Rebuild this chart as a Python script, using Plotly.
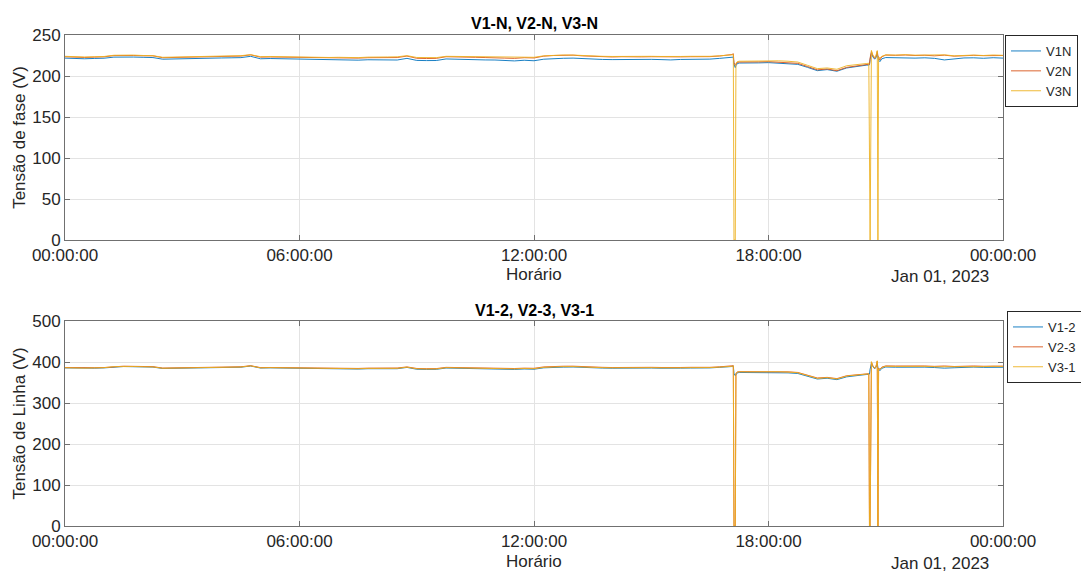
import plotly.graph_objects as go
import pandas as pd

# sample times (HH:MM on 2023-01-01; "24:00" = next midnight)
times = ["00:00","00:15","00:30","00:45","01:00","01:15","01:30","01:45","02:00","02:15",
         "02:30","02:45","03:00","03:15","03:30","03:45","04:00","04:15","04:30","04:45",
         "05:00","05:15","05:30","05:45","06:00","06:15","06:30","06:45","07:00","07:15",
         "07:30","07:45","08:00","08:15","08:30","08:45","09:00","09:15","09:30","09:45",
         "10:00","10:15","10:30","10:45","11:00","11:15","11:30","11:45","12:00","12:15",
         "12:30","12:45","13:00","13:15","13:30","13:45","14:00","14:15","14:30","14:45",
         "15:00","15:15","15:30","15:45","16:00","16:15","16:30","16:45","17:00","17:04",
         "17:06","17:07","17:09","17:10","17:12","17:15","17:30","17:45","18:00","18:15",
         "18:30","18:45","19:00","19:15","19:30","19:45","20:00","20:15","20:30","20:34",
         "20:35","20:36","20:38","20:40","20:43","20:45","20:47","20:48","20:49","20:51",
         "20:54","21:00","21:15","21:30","21:45","22:00","22:15","22:30","22:45","23:00",
         "23:15","23:30","23:45","24:00"]

V1N = [221.8,221.3,221.0,221.4,221.7,223.0,223.4,223.1,222.8,222.5,
       220.5,220.6,221.0,221.2,221.5,221.6,222.0,222.2,222.4,224.0,
       221.0,221.3,221.0,220.8,220.5,220.0,220.2,219.6,219.8,219.5,
       219.3,219.8,219.6,219.2,219.5,221.5,219.0,218.8,218.9,220.8,
       220.3,220.5,220.0,219.6,219.5,218.8,218.4,219.2,218.6,220.5,
       221.3,221.6,221.8,221.0,220.6,220.2,220.0,220.3,219.8,220.0,
       220.3,220.0,219.6,220.2,220.4,220.0,220.6,221.5,222.0,222.8,
       223.0,214.0,210.2,212.5,215.0,215.8,215.6,216.0,216.3,215.8,
       215.0,214.2,210.5,206.5,207.8,205.8,209.8,211.8,213.2,213.4,
       213.6,220.0,228.0,223.5,220.5,222.5,228.0,222.0,219.5,217.5,
       221.0,222.5,222.0,222.4,221.8,222.2,221.5,219.6,221.2,222.0,
       222.2,221.6,222.3,221.8]
V2N = [223.5,223.0,222.6,223.0,223.4,224.9,225.3,225.0,224.7,224.6,
       222.3,222.5,222.8,223.0,223.3,223.4,223.8,224.0,224.3,225.8,
       223.0,223.2,223.0,222.8,222.6,222.3,222.5,222.0,222.2,221.9,
       221.8,222.3,222.3,222.0,222.5,224.3,221.6,221.3,221.5,223.5,
       223.0,223.3,222.8,222.5,222.6,221.8,221.5,222.3,222.0,224.2,
       225.0,225.2,225.4,224.5,224.0,223.6,223.2,223.5,223.0,223.3,
       223.5,223.3,222.8,223.3,223.5,223.2,223.6,224.4,225.2,226.2,
       227.2,216.0,213.0,214.5,216.5,217.0,216.8,217.2,217.5,217.0,
       216.5,215.4,211.5,207.5,208.5,206.5,210.5,212.5,213.8,214.2,
       214.5,222.0,230.0,225.0,221.5,224.0,230.0,224.5,222.0,219.5,
       223.5,225.5,225.2,225.6,225.0,225.3,224.6,225.4,224.2,225.0,
       225.2,224.8,225.3,225.0]
V3N = [224.0,223.4,223.2,223.5,223.8,225.3,225.6,225.5,225.0,224.8,
       222.8,223.0,223.3,223.6,223.8,224.0,224.2,224.5,224.8,226.0,
       223.6,223.8,223.5,223.3,223.2,223.0,223.0,222.6,222.8,222.5,
       222.4,223.0,223.5,223.2,223.4,224.8,222.6,222.3,222.4,224.0,
       223.8,224.2,223.6,223.4,223.3,222.8,222.6,223.0,222.8,224.6,
       225.3,225.6,225.5,224.8,224.3,224.0,223.8,224.0,223.6,223.8,
       224.0,223.8,223.5,223.8,224.0,223.6,224.0,224.6,225.0,225.6,
       226.0,0.0,0.0,215.5,217.5,218.0,218.2,218.5,218.8,218.5,
       218.0,217.0,213.0,209.0,209.8,208.2,212.5,214.3,215.2,215.6,
       0.0,0.0,231.2,226.0,222.5,225.0,231.0,0.0,223.0,222.0,
       224.0,225.8,225.5,226.0,225.4,225.6,225.0,225.8,224.6,225.3,
       225.5,225.0,225.6,225.2]

V12 = [385.6,384.8,384.4,385.0,385.6,388.2,389.0,388.5,388.0,387.6,
       384.2,384.4,385.0,385.3,385.8,386.0,386.5,386.9,387.3,390.2,
       385.3,385.7,385.2,384.8,384.4,383.8,384.1,383.2,383.6,383.0,
       382.8,383.6,383.6,383.0,383.6,386.8,382.3,381.9,382.1,385.3,
       384.7,385.1,384.3,383.7,383.6,382.5,381.9,383.0,382.4,385.8,
       387.1,387.5,387.8,386.5,385.8,385.2,384.8,385.3,384.5,384.8,
       385.3,384.8,384.1,385.0,385.3,384.8,385.6,387.0,387.8,389.0,
       390.0,372.4,366.5,369.5,373.5,374.5,374.2,375.0,375.4,374.6,
       373.5,372.0,365.6,358.5,360.4,357.0,363.8,367.5,369.5,370.0,
       370.5,382.5,396.5,389.5,383.3,387.5,396.0,386.5,382.5,378.8,
       384.6,387.8,387.3,387.9,387.0,387.5,386.5,385.0,386.0,387.3,
       387.6,386.9,387.8,387.2]
V23 = [386.5,385.8,385.4,386.0,386.5,389.0,389.8,389.4,389.0,388.6,
       385.2,385.5,386.0,386.3,386.7,387.0,387.4,387.8,388.3,391.0,
       386.3,386.6,386.2,385.9,385.6,385.2,385.4,384.6,385.0,384.5,
       384.3,385.0,385.4,384.9,385.3,388.0,384.2,383.7,383.9,386.9,
       386.4,386.9,386.0,385.6,385.5,384.5,384.1,385.0,384.6,388.0,
       389.3,389.7,389.8,388.4,387.6,387.0,386.5,387.0,386.2,386.6,
       387.0,386.6,385.9,386.6,387.0,386.4,387.0,388.2,389.0,390.0,
       391.0,0.0,0.0,372.5,375.5,376.5,376.3,377.0,377.5,376.8,
       376.0,374.5,367.8,361.0,362.5,359.5,366.5,369.5,371.0,371.5,
       0.0,0.0,400.0,391.5,385.0,389.0,402.0,0.0,385.0,382.5,
       387.5,390.5,390.2,390.8,390.0,390.3,389.4,390.3,389.0,390.0,
       390.3,389.6,390.5,390.0]
V31 = [386.0,385.2,385.0,385.6,386.1,388.6,389.3,389.0,388.4,388.0,
       384.7,385.0,385.5,385.8,386.3,386.5,387.0,387.4,387.8,390.6,
       385.8,386.2,385.7,385.3,385.1,384.6,384.8,384.0,384.3,383.8,
       383.6,384.3,384.6,384.1,384.5,387.4,383.4,382.9,383.1,386.2,
       385.7,386.1,385.3,384.8,384.7,383.7,383.2,384.2,383.6,387.0,
       388.3,388.7,388.8,387.5,386.8,386.2,385.8,386.2,385.4,385.8,
       386.2,385.8,385.1,385.8,386.2,385.6,386.4,387.6,388.2,389.4,
       390.5,0.0,0.0,372.0,375.0,376.0,375.8,376.5,377.0,376.3,
       375.4,373.8,367.0,360.0,361.8,358.5,365.8,368.8,370.5,371.0,
       0.0,0.0,401.0,391.0,384.5,388.6,403.0,0.0,384.2,381.3,
       386.5,389.6,389.2,389.8,389.0,389.4,388.4,388.2,388.0,389.1,
       389.4,388.7,389.6,389.0]

phase_names = ["V1N", "V2N", "V3N"]
line_names = ["V1-2", "V2-3", "V3-1"]
colors = ["#0072BD", "#D95319", "#EDB120"]
x_ticks = ["00:00:00", "06:00:00", "12:00:00", "18:00:00", "00:00:00"]


def to_dt(t):
    h, m = t.split(":")
    return pd.Timestamp("2023-01-01") + pd.Timedelta(hours=int(h), minutes=int(m))


x = [to_dt(t) for t in times]
tickvals = [to_dt(t) for t in ["00:00", "06:00", "12:00", "18:00", "24:00"]]

fig = go.Figure()
for name, ys, c in zip(phase_names, [V1N, V2N, V3N], colors):
    fig.add_trace(go.Scatter(x=x, y=ys, name=name, mode="lines",
                             line=dict(color=c, width=0.9), xaxis="x", yaxis="y",
                             legend="legend"))
for name, ys, c in zip(line_names, [V12, V23, V31], colors):
    fig.add_trace(go.Scatter(x=x, y=ys, name=name, mode="lines",
                             line=dict(color=c, width=0.9), xaxis="x2", yaxis="y2",
                             legend="legend2"))

W, H = 1081, 574
FONT = "Liberation Sans, Arial, Helvetica, sans-serif"
AX = "#262626"
GRID = "#e3e3e3"
BOX = "#707070"
FS = 17

xd = [65 / W, 1003 / W]
y1d = [1 - 240 / H, 1 - 35 / H]
y2d = [1 - 526 / H, 1 - 321 / H]

xcommon = dict(type="date", range=[tickvals[0], tickvals[-1]], tickvals=tickvals,
               ticktext=x_ticks, showgrid=True, gridcolor=GRID, gridwidth=1,
               showline=True, linecolor=BOX, linewidth=1, mirror="ticks",
               ticks="inside", ticklen=5, tickcolor=BOX, zeroline=False,
               automargin=False,
               tickfont=dict(size=FS, color=AX, family=FONT), domain=xd)
ycommon = dict(showgrid=True, gridcolor=GRID, gridwidth=1, showline=True,
               linecolor=BOX, linewidth=1, mirror="ticks", ticks="inside",
               ticklen=5, tickcolor=BOX, zeroline=False, automargin=False,
               tickfont=dict(size=FS, color=AX, family=FONT))


def label(text, px, py, size=FS, color=AX, bold=False):
    return dict(text=f"<b>{text}</b>" if bold else text, x=px / W, y=1 - py / H,
                xref="paper", yref="paper", showarrow=False,
                font=dict(size=size, color=color, family=FONT),
                xanchor="center", yanchor="middle")


fig.update_layout(
    width=W, height=H,
    margin=dict(l=0, r=0, t=0, b=0, autoexpand=False),
    paper_bgcolor="white", plot_bgcolor="white",
    font=dict(family=FONT, color=AX),
    showlegend=True,
    xaxis=dict(**xcommon, anchor="y"),
    yaxis=dict(**ycommon, domain=y1d, range=[0, 250], tickvals=[0, 50, 100, 150, 200, 250],
               anchor="x",
               title=dict(text="Tensão de fase (V)", font=dict(size=FS, color=AX, family=FONT),
                          standoff=2)),
    xaxis2=dict(**xcommon, anchor="y2"),
    yaxis2=dict(**ycommon, domain=y2d, range=[0, 500], tickvals=[0, 100, 200, 300, 400, 500],
                anchor="x2",
                title=dict(text="Tensão de Linha (V)", font=dict(size=FS, color=AX, family=FONT),
                           standoff=2)),
    legend=dict(x=1005 / W, y=1 - 35 / H, xanchor="left", yanchor="top",
                bgcolor="white", bordercolor=AX, borderwidth=1,
                font=dict(size=13, color=AX, family=FONT), itemwidth=30,
                tracegroupgap=0),
    legend2=dict(x=1007 / W, y=1 - 311 / H, xanchor="left", yanchor="top",
                 bgcolor="white", bordercolor=AX, borderwidth=1,
                 font=dict(size=13, color=AX, family=FONT), itemwidth=30,
                 tracegroupgap=0),
    annotations=[
        label("V1-N, V2-N, V3-N", 534, 24, size=16, color="black", bold=True),
        label("V1-2, V2-3, V3-1", 534, 310, size=16, color="black", bold=True),
        label("Horário", 534, 274),
        label("Horário", 534, 561),
        label("Jan 01, 2023", 940, 277),
        label("Jan 01, 2023", 940, 563),
    ],
)

fig.write_html("out.html", config={"displayModeBar": False},
               post_script="document.body.style.margin='0';document.body.style.padding='0';")
